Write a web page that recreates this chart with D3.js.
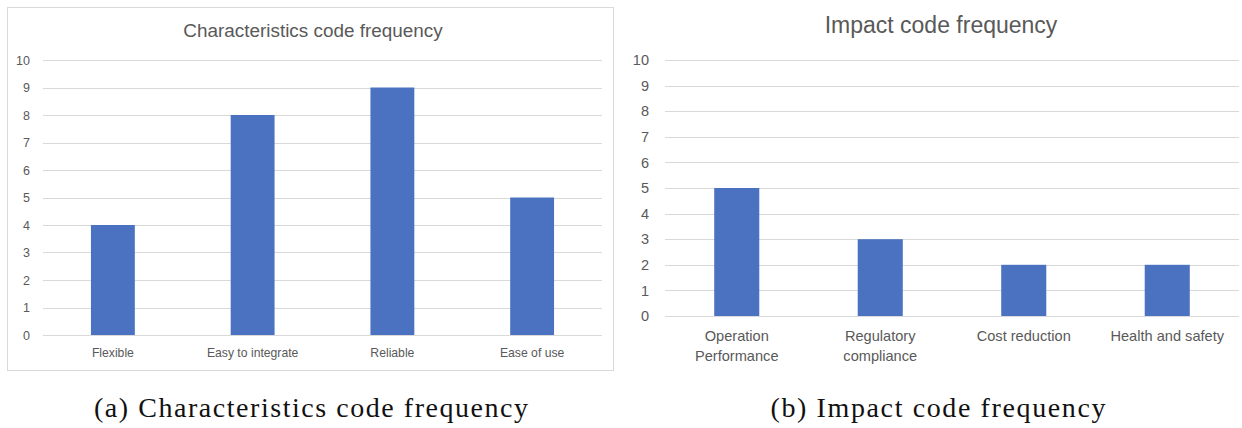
<!DOCTYPE html>
<html>
<head>
<meta charset="utf-8">
<script src="https://cdn.jsdelivr.net/npm/d3@7"></script>
<style>
html,body{margin:0;padding:0;background:#fff;}
svg{display:block;}
</style>
</head>
<body>
<svg id="chart" width="1242" height="428"></svg>
<script>
const charCategories = ["Flexible", "Easy to integrate", "Reliable", "Ease of use"];
const charValues = [4, 8, 9, 5];
const impactCategories = [["Operation", "Performance"], ["Regulatory", "compliance"], ["Cost reduction"], ["Health and safety"]];
const impactValues = [5, 3, 2, 2];
const yTicks = [0, 1, 2, 3, 4, 5, 6, 7, 8, 9, 10];
const captions = ["(a) Characteristics code frequency", "(b) Impact code frequency"];
const titles = ["Characteristics code frequency", "Impact code frequency"];

const svg = d3.select("#chart");
const barColor = "#4a72c0";
const gridColor = "#d9d9d9";
const textColor = "#595959";
const font = "'Liberation Sans', Arial, sans-serif";

function drawPanel(opt) {
  const g = svg.append("g");
  if (opt.border) {
    g.append("rect").attr("x", opt.border[0] + 0.5).attr("y", opt.border[1] + 0.5)
      .attr("width", opt.border[2]).attr("height", opt.border[3])
      .attr("fill", "none").attr("stroke", "#d9d9d9").attr("stroke-width", 1);
  }
  const x = d3.scaleBand().domain(opt.cats.map((d, i) => i)).range([opt.x0, opt.x1]).paddingInner(0.686).paddingOuter(0.343);
  const y = d3.scaleLinear().domain([0, 10]).range([opt.y0, opt.y1]);

  // gridlines
  g.append("g").selectAll("line").data(yTicks).join("line")
    .attr("x1", opt.x0).attr("x2", opt.x1)
    .attr("y1", d => Math.round(y(d)) + 0.5).attr("y2", d => Math.round(y(d)) + 0.5)
    .attr("stroke", gridColor).attr("stroke-width", 1);

  // y axis labels
  const yAxis = d3.axisLeft(y).tickValues(yTicks).tickSize(0).tickPadding(opt.tickPad);
  const ya = g.append("g").attr("transform", `translate(${opt.x0},0)`).call(yAxis);
  ya.select(".domain").remove();
  ya.selectAll("text").attr("fill", textColor).style("font-family", font).style("font-size", opt.tickSize + "px");

  // bars
  g.append("g").selectAll("rect").data(opt.vals).join("rect")
    .attr("x", (d, i) => x(i)).attr("width", x.bandwidth())
    .attr("y", d => y(d)).attr("height", d => y(0) - y(d))
    .attr("fill", barColor);

  // x labels
  const xl = g.append("g").selectAll("text").data(opt.cats).join("text")
    .attr("x", (d, i) => x(i) + x.bandwidth() / 2)
    .attr("y", opt.labelY)
    .attr("text-anchor", "middle").attr("fill", textColor)
    .style("font-family", font).style("font-size", opt.labelSize + "px");
  xl.each(function(d) {
    const lines = Array.isArray(d) ? d : [d];
    const t = d3.select(this);
    lines.forEach((l, k) => t.append("tspan").attr("x", t.attr("x")).attr("dy", k === 0 ? 0 : opt.lineH).text(l));
  });

  // title
  g.append("text").attr("x", opt.titleX).attr("y", opt.titleY).attr("text-anchor", "middle")
    .attr("fill", textColor).style("font-family", font).style("font-size", opt.titleSize + "px")
    .text(opt.title);

  // caption
  g.append("text").attr("x", opt.capX).attr("y", 417).attr("text-anchor", "middle")
    .attr("textLength", opt.capW).attr("lengthAdjust", "spacing")
    .attr("fill", "#111").style("font-family", "'Liberation Serif', 'DejaVu Serif', serif").style("font-size", "28px")
    .text(opt.caption);
}

drawPanel({
  border: [7, 7, 606, 363],
  cats: charCategories, vals: charValues,
  x0: 43, x1: 602, y0: 335, y1: 60,
  tickPad: 13, tickSize: 12.5, labelY: 357, labelSize: 12.2, lineH: 14,
  title: titles[0], titleX: 313, titleY: 37, titleSize: 18.9,
  caption: captions[0], capX: 311, capW: 434
});

drawPanel({
  border: null,
  cats: impactCategories, vals: impactValues,
  x0: 665, x1: 1239, y0: 316, y1: 60,
  tickPad: 16, tickSize: 14.5, labelY: 341, labelSize: 14.6, lineH: 20,
  title: titles[1], titleX: 941, titleY: 33, titleSize: 23,
  caption: captions[1], capX: 938, capW: 335
});
</script>
</body>
</html>
